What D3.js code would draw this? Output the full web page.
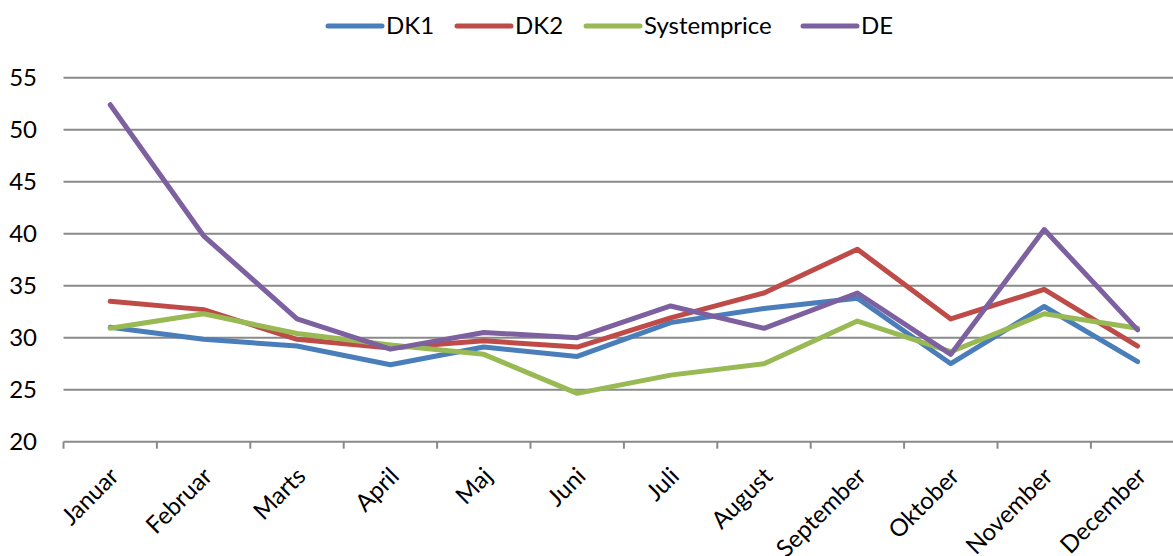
<!DOCTYPE html>
<html>
<head>
<meta charset="utf-8">
<script src="https://cdn.jsdelivr.net/npm/d3@7"></script>
<style>
  html, body { margin: 0; padding: 0; background: #fff; }
  svg { display: block; }
  text { font-family: Lato, "Liberation Sans", sans-serif; fill: #000; }
</style>
</head>
<body>
<svg id="chart" width="1173" height="556"></svg>
<script>
// Monthly average prices per price area
const months = ["Januar", "Februar", "Marts", "April", "Maj", "Juni",
                "Juli", "August", "September", "Oktober", "November", "December"];
const dk1 =         [31.0, 29.85, 29.2, 27.4, 29.1, 28.2, 31.45, 32.8, 33.8, 27.5, 33.0, 27.7];
const dk2 =         [33.5, 32.7, 29.85, 29.0, 29.7, 29.1, 31.9, 34.3, 38.5, 31.8, 34.65, 29.2];
const systemprice = [30.9, 32.3, 30.4, 29.3, 28.4, 24.65, 26.4, 27.5, 31.6, 28.65, 32.3, 30.9];
const de =          [52.4, 39.8, 31.8, 28.9, 30.5, 30.0, 33.05, 30.9, 34.3, 28.4, 40.4, 30.75];
const yTicks = [20, 25, 30, 35, 40, 45, 50, 55];

const seriesNames = ["DK1", "DK2", "Systemprice", "DE"];
const seriesColors = ["#4A7EBB", "#BE4B48", "#98B954", "#7D60A0"];
const seriesValues = [dk1, dk2, systemprice, de];

const svg = d3.select("#chart");

const x = d3.scaleBand().domain(months).range([63.5, 1184.3]);
const y = d3.scaleLinear().domain([20, 55]).range([441.7, 77.7]);
const cx = m => x(m) + x.bandwidth() / 2;

// horizontal gridlines
svg.append("g")
  .selectAll("line")
  .data(yTicks.filter(v => v > 20))
  .join("line")
  .attr("x1", 63.5).attr("x2", 1184)
  .attr("y1", d => y(d)).attr("y2", d => y(d))
  .attr("stroke", "#8a8a8a").attr("stroke-width", 2);

// y-axis labels
svg.append("g")
  .selectAll("text")
  .data(yTicks)
  .join("text")
  .attr("x", 37).attr("y", d => y(d))
  .attr("dy", "0.36em")
  .attr("text-anchor", "end")
  .style("font-size", "24px")
  .text(d => d);

// category axis with tick marks on band boundaries
const axisG = svg.append("g");
axisG.append("line")
  .attr("x1", 63.5).attr("x2", 1184)
  .attr("y1", y(20)).attr("y2", y(20))
  .attr("stroke", "#8a8a8a").attr("stroke-width", 2);
const boundaries = months.map(m => x(m)).concat([x.range()[1]]);
axisG.selectAll("line.tick")
  .data(boundaries)
  .join("line")
  .attr("class", "tick")
  .attr("x1", d => d).attr("x2", d => d)
  .attr("y1", y(20)).attr("y2", y(20) + 7)
  .attr("stroke", "#8a8a8a").attr("stroke-width", 2);

axisG.selectAll("text")
  .data(months)
  .join("text")
  .attr("text-anchor", "end")
  .attr("transform", m => `translate(${cx(m) + 10},${y(20) + 36}) rotate(-45)`)
  .style("font-size", "24px")
  .text(m => m);

// series lines
const line = d3.line()
  .x((d, i) => cx(months[i]))
  .y(d => y(d));

svg.append("g")
  .selectAll("path")
  .data(seriesValues)
  .join("path")
  .attr("d", d => line(d))
  .attr("fill", "none")
  .attr("stroke", (d, i) => seriesColors[i])
  .attr("stroke-width", 5)
  .attr("stroke-linejoin", "round")
  .attr("stroke-linecap", "round");

// legend
const legendX = [328, 457, 586, 803];
const legend = svg.append("g");
const items = legend.selectAll("g")
  .data(seriesNames)
  .join("g")
  .attr("transform", (d, i) => `translate(${legendX[i]},26)`);
items.append("line")
  .attr("x1", 0).attr("x2", 54)
  .attr("y1", 0).attr("y2", 0)
  .attr("stroke", (d, i) => seriesColors[i])
  .attr("stroke-width", 5)
  .attr("stroke-linecap", "round");
items.append("text")
  .attr("x", 58).attr("y", 8)
  .style("font-size", "24px")
  .text(d => d);
</script>
</body>
</html>
